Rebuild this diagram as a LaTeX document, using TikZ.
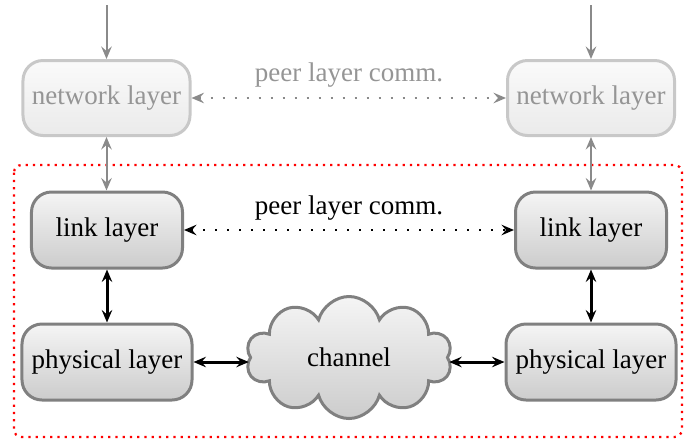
\documentclass[tikz,border=0pt]{standalone}
\usepackage{fontspec}
\setmainfont{Liberation Serif}
\usetikzlibrary{shapes.symbols,arrows.meta}
\definecolor{boxborder}{HTML}{808080}
\definecolor{netborder}{HTML}{C8C8C8}
\definecolor{nettext}{HTML}{959595}
\definecolor{grayarrow}{HTML}{8A8A8A}
\begin{document}
\begin{tikzpicture}[x=0.4pt,y=-0.4pt,
  font=\fontsize{10.8}{13}\selectfont,
  tip/.style={-{Stealth[length=5pt,width=4.2pt,inset=1.8pt]}},
  dtip/.style={{Stealth[length=5pt,width=4.2pt,inset=1.8pt]}-{Stealth[length=5pt,width=4.2pt,inset=1.8pt]}},
  layerbox/.style={draw=boxborder,line width=1.2pt,rounded corners=8pt,top color=black!4,bottom color=black!20,text=black,minimum height=30.4pt,inner sep=2pt},
  netbox/.style={draw=netborder,line width=1.2pt,rounded corners=8pt,top color=black!2,bottom color=black!8,text=nettext,minimum height=30pt,minimum width=66.8pt,inner sep=2pt},
  grayconn/.style={grayarrow,line width=0.8pt},
  blackconn/.style={black,line width=1.2pt},
]
\useasboundingbox (0,0) rectangle (691,441);
% red region
\draw[red,line width=0.9pt,dotted,rounded corners=3pt] (14,165) rectangle (682,437);
% nodes
\node[netbox] (net1) at (106.5,98) {network layer};
\node[netbox] (net2) at (591,98) {network layer};
\node[layerbox,minimum width=60.4pt] (link1) at (107,230) {link layer};
\node[layerbox,minimum width=60.4pt] (link2) at (591,230) {link layer};
\node[layerbox,minimum width=68pt] (phy1) at (107,362) {physical layer};
\node[layerbox,minimum width=68pt] (phy2) at (591,362) {physical layer};
\node[cloud,cloud puffs=10,cloud ignores aspect,draw=boxborder,line width=1.2pt,top color=black!4,bottom color=black!20,minimum width=82.4pt,minimum height=48.8pt] (ch) at (349,357.5) {channel};
\node[text=nettext] (lbl1) at (349,75) {peer layer comm.};
\node (lbl2) at (349,208) {peer layer comm.};
\coordinate (top1) at (106.5,5);
\coordinate (top2) at (591,5);
% connectors
\draw[grayconn,tip] (top1) -- (net1.north);
\draw[grayconn,tip] (top2) -- (net2.north);
\draw[grayconn,dtip] (net1.south) -- (net1.south |- link1.north);
\draw[grayconn,dtip] (net2.south) -- (net2.south |- link2.north);
\draw[grayconn,dtip,dash pattern=on 0.8pt off 4pt] (net1.east) -- (net2.west);
\draw[black,line width=0.8pt,dtip,dash pattern=on 0.8pt off 4pt] (link1.east) -- (link2.west);
\draw[blackconn,dtip] (link1.south) -- (phy1.north);
\draw[blackconn,dtip] (link2.south) -- (phy2.north);
\draw[blackconn,dtip] (phy1.east) -- (phy1.east -| ch.west);
\draw[blackconn,dtip] (phy2.west) -- (phy2.west -| ch.east);
\end{tikzpicture}
\end{document}
